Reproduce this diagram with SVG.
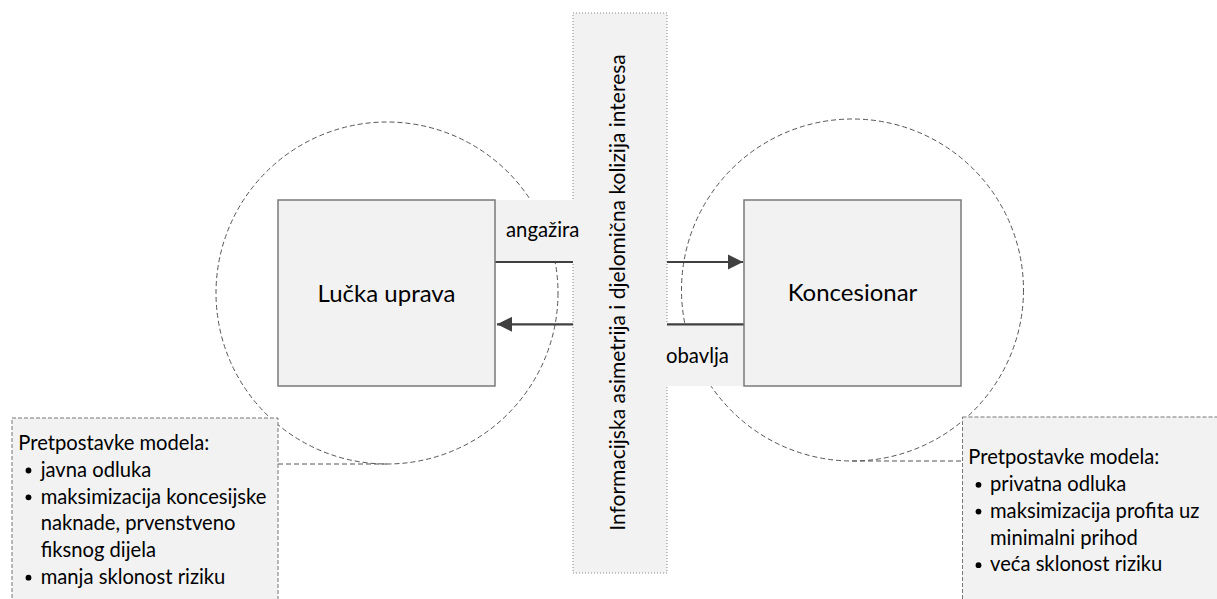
<svg xmlns="http://www.w3.org/2000/svg" width="1217" height="599" viewBox="0 0 1217 599">
<style>
text{font-family:Lato,"Open Sans","Liberation Sans",sans-serif;fill:#000}
.circ{fill:none;stroke:#555;stroke-width:1;stroke-dasharray:5,3}
.box{fill:#f2f2f2;stroke:#7a7a7a;stroke-width:1.5}
.lbl{fill:#f2f2f2;stroke:none}
.bar{fill:#f2f2f2;stroke:#888;stroke-width:1;stroke-dasharray:1,2}
.note{fill:#f2f2f2;stroke:#777;stroke-width:1;stroke-dasharray:4,2}
.dl{fill:none;stroke:#555;stroke-width:1;stroke-dasharray:5,3}
.ar{fill:none;stroke:#404040;stroke-width:2.2}
.main{font-size:24px}
.t{font-size:20.2px}
.lb{font-size:20.3px}
</style>
<defs>
<marker id="ah" viewBox="0 0 10 10" refX="10" refY="5" markerWidth="7" markerHeight="7" markerUnits="strokeWidth" orient="auto">
<path d="M0,0 L10,5 L0,10 z" fill="#404040"/>
</marker>
</defs>
<g id="circles">
<circle class="circ" cx="387" cy="293" r="171"/>
<circle class="circ" cx="852.5" cy="290" r="171"/>
</g>
<g id="bar">
<rect class="bar" x="573" y="13" width="94" height="560"/>
<text transform="translate(625,292.5) rotate(-90)" text-anchor="middle" style="font-size:21px">Informacijska asimetrija i djelomična kolizija interesa</text>
</g>
<g id="labels">
<rect class="lbl" x="495" y="200" width="85" height="62"/>
<text class="lb" x="506" y="236.7">angažira</text>
<rect class="lbl" x="661" y="324" width="83" height="62"/>
<text class="lb" x="666" y="362.7">obavlja</text>
</g>
<g id="connectors">
<line class="ar" x1="495" y1="262" x2="573" y2="262"/>
<line class="ar" x1="667" y1="262" x2="743" y2="262" marker-end="url(#ah)"/>
<line class="ar" x1="744" y1="324.3" x2="667" y2="324.3"/>
<line class="ar" x1="573" y1="324.3" x2="497" y2="324.3" marker-end="url(#ah)"/>
<line class="dl" x1="278" y1="464" x2="387" y2="464"/>
<line class="dl" x1="852" y1="461" x2="962" y2="461"/>
</g>
<g id="lucka-uprava">
<rect class="box" x="278" y="200" width="217" height="186"/>
<text class="main" x="386.5" y="301.7" text-anchor="middle">Lučka uprava</text>
</g>
<g id="koncesionar">
<rect class="box" x="744" y="200" width="217" height="186"/>
<text class="main" x="852.5" y="301" text-anchor="middle">Koncesionar</text>
</g>
<g id="note-left">
<rect class="note" x="12" y="418" width="266" height="190"/>
<text class="t" x="18.3" y="450">Pretpostavke modela:</text>
<circle cx="28.5" cy="470.5" r="2.9"/>
<text class="t" x="40.7" y="476.8">javna odluka</text>
<circle cx="28.5" cy="497.3" r="2.9"/>
<text class="t" x="40.7" y="503.6">maksimizacija koncesijske</text>
<text class="t" x="40.7" y="530.4">naknade, prvenstveno</text>
<text class="t" x="40.7" y="557.2">fiksnog dijela</text>
<circle cx="28.5" cy="577.7" r="2.9"/>
<text class="t" x="40.7" y="584">manja sklonost riziku</text>
</g>
<g id="note-right">
<rect class="note" x="962.5" y="417" width="270" height="190"/>
<text class="t" x="968.3" y="464.3">Pretpostavke modela:</text>
<circle cx="978.5" cy="484.8" r="2.9"/>
<text class="t" x="990" y="491">privatna odluka</text>
<circle cx="978.5" cy="511.6" r="2.9"/>
<text class="t" x="990" y="517.8">maksimizacija profita uz</text>
<text class="t" x="990" y="544.6">minimalni prihod</text>
<circle cx="978.5" cy="565.2" r="2.9"/>
<text class="t" x="990" y="571.4">veća sklonost riziku</text>
</g>
</svg>
